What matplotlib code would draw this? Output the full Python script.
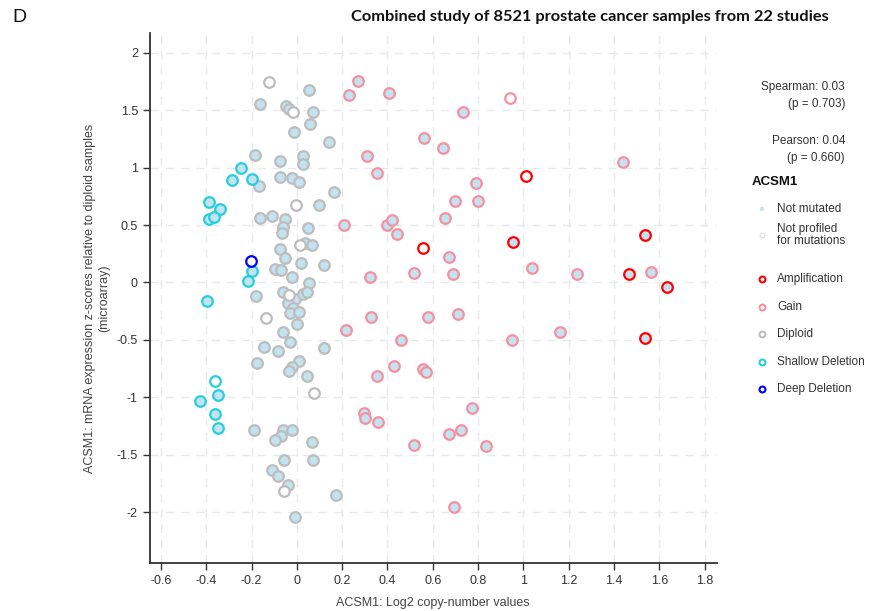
import numpy as np
import matplotlib
matplotlib.use("Agg")
import matplotlib.pyplot as plt

plt.rcParams['font.family'] = ['Liberation Sans', 'DejaVu Sans']

# (log2 copy number, mRNA z-score)
# "mut" = not mutated (light blue fill), "np" = not profiled (white fill)
diploid_mut = [
    (0.054, 1.671), (-0.163, 1.555), (-0.049, 1.532), (-0.034, 1.511), (0.073, 1.479),
    (0.057, 1.375), (-0.012, 1.308), (0.142, 1.218), (-0.185, 1.108), (0.028, 1.096),
    (-0.075, 1.056), (0.028, 1.030), (-0.076, 0.919), (-0.023, 0.913), (0.009, 0.873),
    (-0.165, 0.843), (0.163, 0.788), (0.100, 0.678), (-0.163, 0.562), (-0.109, 0.582),
    (-0.050, 0.556), (-0.063, 0.486), (-0.066, 0.434), (0.049, 0.477), (0.038, 0.344),
    (0.069, 0.329), (-0.076, 0.294), (-0.050, 0.216), (0.018, 0.170), (0.119, 0.152),
    (-0.097, 0.115), (-0.069, 0.109), (-0.023, 0.045), (0.056, -0.007), (-0.182, -0.118),
    (-0.060, -0.085), (-0.009, -0.141), (0.028, -0.100), (0.043, -0.083), (-0.038, -0.181),
    (-0.016, -0.219), (-0.030, -0.263), (0.010, -0.260), (-0.001, -0.364), (-0.059, -0.434),
    (-0.028, -0.518), (-0.147, -0.562), (-0.082, -0.594), (0.121, -0.568), (-0.176, -0.704),
    (0.010, -0.681), (-0.021, -0.733), (-0.034, -0.771), (0.047, -0.817), (-0.188, -1.279),
    (-0.060, -1.285), (-0.022, -1.279), (-0.069, -1.334), (-0.096, -1.372), (0.067, -1.387),
    (-0.057, -1.543), (0.072, -1.543), (-0.109, -1.633), (-0.085, -1.686), (-0.037, -1.764),
    (0.171, -1.845), (-0.007, -2.037),
]
diploid_np = [
    (-0.123, 1.744), (-0.015, 1.483), (-0.003, 0.672), (0.013, 0.329),
    (-0.035, -0.106), (-0.138, -0.309), (0.076, -0.963), (-0.057, -1.813),
]
gain_mut = [
    (0.271, 1.755), (0.231, 1.627), (0.407, 1.648), (0.735, 1.479), (0.563, 1.256),
    (0.644, 1.174), (0.312, 1.102), (0.353, 0.951), (0.791, 0.864), (0.698, 0.713),
    (0.801, 0.710), (0.210, 0.498), (0.398, 0.501), (0.419, 0.544), (0.441, 0.420),
    (0.653, 0.559), (0.674, 0.225), (0.516, 0.085), (0.690, 0.071), (0.325, 0.045),
    (1.442, 1.052), (1.038, 0.129), (1.238, 0.071), (1.563, 0.091), (0.329, -0.303),
    (0.577, -0.303), (0.710, -0.272), (0.218, -0.411), (0.460, -0.504), (0.428, -0.727),
    (0.556, -0.753), (0.569, -0.780), (0.356, -0.812), (0.772, -1.093), (0.296, -1.134),
    (0.299, -1.178), (0.357, -1.215), (0.674, -1.317), (0.723, -1.282), (0.517, -1.416),
    (0.835, -1.421), (0.696, -1.953), (1.163, -0.434), (0.950, -0.501),
]
gain_np = [(0.941, 1.601)]
amp_mut = [(0.956, 0.355), (1.535, 0.414), (1.466, 0.077), (1.633, -0.037), (1.537, -0.487)]
amp_np = [(1.012, 0.930), (0.557, 0.298)]
shallow_mut = [
    (-0.248, 0.997), (-0.288, 0.890), (-0.197, 0.902), (-0.388, 0.699), (-0.337, 0.638),
    (-0.389, 0.553), (-0.366, 0.568), (-0.197, 0.103), (-0.216, 0.013), (-0.398, -0.164),
    (-0.347, -0.977), (-0.427, -1.032), (-0.360, -1.145), (-0.347, -1.265),
]
shallow_np = [(-0.359, -0.861)]
deep_mut = []
deep_np = [(-0.204, 0.190)]

x_ticks = [-0.6, -0.4, -0.2, 0, 0.2, 0.4, 0.6, 0.8, 1, 1.2, 1.4, 1.6, 1.8]
y_ticks = [-2, -1.5, -1, -0.5, 0, 0.5, 1, 1.5, 2]

FILL_MUT = '#c3e3f1'
FILL_NP = 'white'
cna_colors = {'Amplification': '#ff0000', 'Gain': '#f7909f', 'Diploid': '#bdbdbd',
              'Shallow Deletion': '#26cfdc', 'Deep Deletion': '#0000ff'}

fig = plt.figure(figsize=(8.76, 6.11), dpi=100)
ax = fig.add_axes([0.171, 0.0785, 0.647, 0.8675])

groups = [('Diploid', diploid_mut, diploid_np), ('Gain', gain_mut, gain_np),
          ('Shallow Deletion', shallow_mut, shallow_np), ('Amplification', amp_mut, amp_np),
          ('Deep Deletion', deep_mut, deep_np)]
for name, mut, nprof in groups:
    for pts, fill in ((mut, FILL_MUT), (nprof, FILL_NP)):
        if not pts:
            continue
        arr = np.array(pts)
        ax.scatter(arr[:, 0], arr[:, 1], s=58, facecolor=fill,
                   edgecolor=cna_colors[name], linewidths=1.6, zorder=3)

ax.set_xlim(-0.649, 1.853)
ax.set_ylim(-2.44, 2.17)
ax.set_xticks(x_ticks)
ax.set_xticklabels([f'{t:g}' for t in x_ticks])
ax.set_yticks(y_ticks)
ax.set_yticklabels([f'{t:g}' for t in y_ticks])
ax.grid(True, color='#e6eaee', linestyle=(0, (6, 5)), linewidth=1.0, zorder=0)
ax.set_axisbelow(True)
for s in ('top', 'right'):
    ax.spines[s].set_visible(False)
for s in ('left', 'bottom'):
    ax.spines[s].set_color('#333333')
    ax.spines[s].set_linewidth(1.3)
ax.tick_params(colors='#333333', labelcolor='#333333', labelsize=9, length=5, width=1)

ax.set_xlabel('ACSM1: Log2 copy-number values', fontsize=9, color='#444444', labelpad=7)
ax.set_ylabel('ACSM1: mRNA expression z-scores relative to diploid samples\n(microarray)',
              fontsize=9, color='#444444', labelpad=5)

fig.text(12 / 876, 1 - 17 / 611, 'D', fontsize=14, va='center', ha='left', color='#111111')
fig.text(590 / 876, 1 - 17 / 611,
         'Combined study of 8521 prostate cancer samples from 22 studies',
         family=['Lato', 'DejaVu Sans'], fontweight='bold', fontsize=11.8,
         ha='center', va='center', color='#111111')

# legend / stats panel, in pixel coordinates of an overlay
ov = fig.add_axes([0, 0, 1, 1], facecolor='none')
ov.set_xlim(0, 876)
ov.set_ylim(611, 0)
ov.axis('off')

for txt, yy in (('Spearman: 0.03', 87), ('(p = 0.703)', 104),
                ('Pearson: 0.04', 141), ('(p = 0.660)', 158)):
    ov.text(845, yy, txt, fontsize=8.5, ha='right', va='center', color='#333333')

ov.text(752, 182, 'ACSM1', fontsize=9.5, fontweight='bold', ha='left', va='center', color='#111111')
ov.scatter([762], [209], s=10, facecolor=FILL_MUT, edgecolor='none')
ov.text(777, 209, 'Not mutated', fontsize=8.5, va='center', color='#333333')
ov.scatter([762], [235], s=12, facecolor='white', edgecolor='#dddddd', linewidths=0.8)
ov.text(777, 235, 'Not profiled\nfor mutations', fontsize=8.5, va='center',
        color='#333333', linespacing=0.95)
for name, yy in (('Amplification', 279), ('Gain', 307), ('Diploid', 334),
                 ('Shallow Deletion', 362), ('Deep Deletion', 389)):
    ov.scatter([762], [yy], s=18, facecolor='white', edgecolor=cna_colors[name], linewidths=1.5)
    ov.text(777, yy, name, fontsize=8.5, va='center', color='#333333')

fig.savefig('out.png', dpi=100)
